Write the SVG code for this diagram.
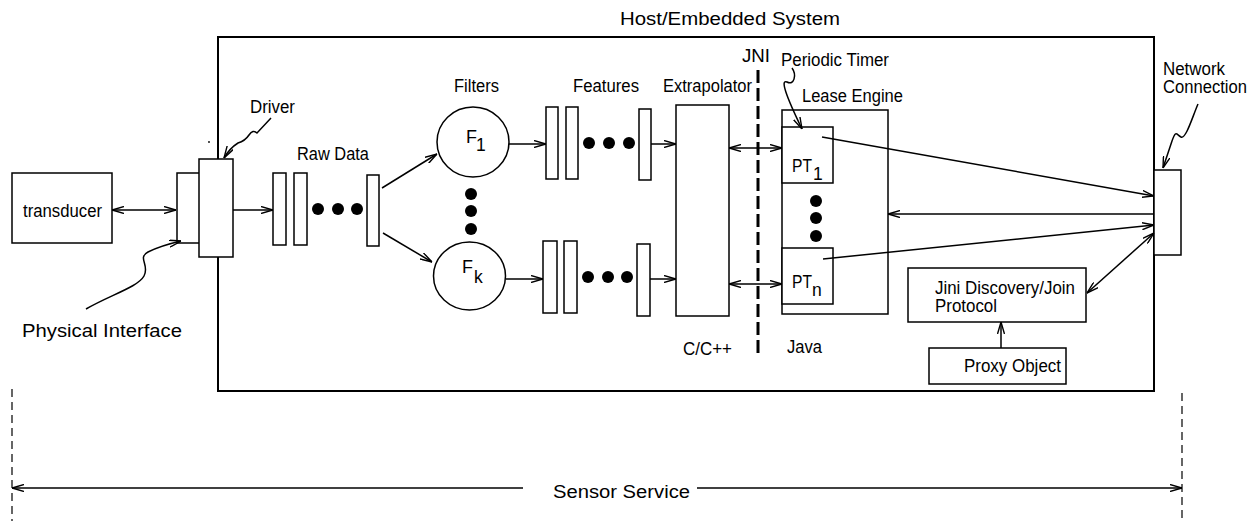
<svg xmlns="http://www.w3.org/2000/svg" width="1256" height="521" viewBox="0 0 1256 521">
<style>
text{font-family:"Liberation Sans",Arimo,Arial,Helvetica,sans-serif;font-size:17.5px;fill:#000}
.b{fill:#fff;stroke:#000;stroke-width:1.5}
.l{fill:none;stroke:#000;stroke-width:1.5}
.d{fill:#000}
</style>
<defs>
<marker id="ah" viewBox="0 0 12 8" refX="12" refY="4" markerWidth="12" markerHeight="8" markerUnits="userSpaceOnUse" orient="auto-start-reverse">
<path d="M0,0.5 L12,4 L0,7.5" fill="none" stroke="#000" stroke-width="1.4"/>
</marker>
</defs>
<rect width="1256" height="521" fill="#fff"/>

<g id="host-system">
<rect x="218" y="37" width="936" height="354" fill="none" stroke="#000" stroke-width="2"/>
<text x="620" y="25" font-size="19" textLength="220" lengthAdjust="spacingAndGlyphs">Host/Embedded System</text>
</g>

<g id="transducer">
<rect class="b" x="12" y="173" width="100" height="70"/>
<text x="23" y="217" textLength="79" lengthAdjust="spacingAndGlyphs">transducer</text>
</g>

<g id="physical-interface">
<rect class="b" x="177" y="173" width="26" height="70"/>
<text x="22" y="337" font-size="20" textLength="160" lengthAdjust="spacingAndGlyphs">Physical Interface</text>
</g>

<g id="driver">
<rect class="b" x="199" y="159" width="34" height="98"/>
<text x="250" y="113" textLength="45" lengthAdjust="spacingAndGlyphs">Driver</text>
<circle class="d" cx="209" cy="142" r="0.9"/>
</g>

<g id="raw-data">
<text x="297" y="160" textLength="72" lengthAdjust="spacingAndGlyphs">Raw Data</text>
<rect class="b" x="273" y="173" width="13" height="72"/>
<rect class="b" x="294" y="173" width="13" height="72"/>
<circle class="d" cx="318" cy="209" r="6"/>
<circle class="d" cx="338" cy="209" r="6"/>
<circle class="d" cx="357" cy="209" r="6"/>
<rect class="b" x="367" y="175" width="12" height="71"/>
</g>

<g id="filters">
<text x="454" y="92" textLength="45" lengthAdjust="spacingAndGlyphs">Filters</text>
<ellipse class="b" cx="473" cy="142" rx="36" ry="35"/>
<text x="466" y="143" font-size="18" textLength="11" lengthAdjust="spacingAndGlyphs">F</text>
<text x="476" y="151" font-size="18">1</text>
<circle class="d" cx="471" cy="194" r="6"/>
<circle class="d" cx="471" cy="211" r="6"/>
<circle class="d" cx="471" cy="229" r="6"/>
<ellipse class="b" cx="469.5" cy="276" rx="36" ry="34"/>
<text x="462" y="273" font-size="18" textLength="11" lengthAdjust="spacingAndGlyphs">F</text>
<text x="474" y="283" font-size="18">k</text>
</g>

<g id="features">
<text x="573" y="92" textLength="66" lengthAdjust="spacingAndGlyphs">Features</text>
<rect class="b" x="546" y="107" width="12" height="72"/>
<rect class="b" x="566" y="107" width="12" height="72"/>
<circle class="d" cx="589" cy="143" r="6"/>
<circle class="d" cx="609" cy="143" r="6"/>
<circle class="d" cx="629" cy="143" r="6"/>
<rect class="b" x="639" y="109" width="12" height="71"/>
<rect class="b" x="543" y="241" width="14" height="72"/>
<rect class="b" x="564" y="241" width="13" height="72"/>
<circle class="d" cx="588" cy="277" r="6"/>
<circle class="d" cx="608" cy="277" r="6"/>
<circle class="d" cx="627" cy="277" r="6"/>
<rect class="b" x="637" y="244" width="13" height="72"/>
</g>

<g id="extrapolator">
<text x="663" y="92" textLength="89" lengthAdjust="spacingAndGlyphs">Extrapolator</text>
<rect class="b" x="676" y="105" width="53" height="211"/>
<text x="683" y="355" textLength="49" lengthAdjust="spacingAndGlyphs">C/C++</text>
</g>

<g id="jni">
<text x="742" y="62" font-size="18" textLength="28" lengthAdjust="spacingAndGlyphs">JNI</text>
<line x1="758" y1="70" x2="758" y2="357" stroke="#000" stroke-width="3" stroke-dasharray="13,5"/>
<text x="787" y="353" textLength="35" lengthAdjust="spacingAndGlyphs">Java</text>
</g>

<g id="lease-engine">
<text x="802" y="102" textLength="101" lengthAdjust="spacingAndGlyphs">Lease Engine</text>
<rect class="b" x="782" y="110" width="106" height="204"/>
<rect class="b" x="782" y="127" width="51" height="56"/>
<text x="792" y="172" textLength="20" lengthAdjust="spacingAndGlyphs">PT</text>
<text x="813" y="180" font-size="19">1</text>
<circle class="d" cx="816" cy="201" r="6"/>
<circle class="d" cx="816" cy="218" r="6"/>
<circle class="d" cx="816" cy="236" r="6"/>
<rect class="b" x="782" y="248" width="51" height="56"/>
<text x="792" y="288" textLength="20" lengthAdjust="spacingAndGlyphs">PT</text>
<text x="812" y="296" font-size="19">n</text>
</g>

<g id="periodic-timer">
<text x="781" y="66" textLength="108" lengthAdjust="spacingAndGlyphs">Periodic Timer</text>
</g>

<g id="jini-discovery">
<rect class="b" x="908" y="268" width="178" height="54"/>
<text x="935" y="294" font-size="16" textLength="140" lengthAdjust="spacingAndGlyphs">Jini Discovery/Join</text>
<text x="935" y="311.5" font-size="16" textLength="62" lengthAdjust="spacingAndGlyphs">Protocol</text>
</g>

<g id="proxy-object">
<rect class="b" x="929" y="348" width="137" height="36"/>
<text x="964" y="372" font-size="18" textLength="97" lengthAdjust="spacingAndGlyphs">Proxy Object</text>
</g>

<g id="network-connection">
<rect class="b" x="1154" y="170" width="27" height="85"/>
<text x="1163" y="75" font-size="15.5" textLength="62" lengthAdjust="spacingAndGlyphs">Network</text>
<text x="1163" y="92.5" font-size="15.5" textLength="84" lengthAdjust="spacingAndGlyphs">Connection</text>
</g>

<g id="sensor-service">
<line x1="12" y1="389" x2="12" y2="521" stroke="#000" stroke-width="1.2" stroke-dasharray="8,5"/>
<line x1="1182" y1="393" x2="1182" y2="521" stroke="#000" stroke-width="1.2" stroke-dasharray="8,5"/>
<text x="553" y="498" font-size="20" textLength="137" lengthAdjust="spacingAndGlyphs">Sensor Service</text>
</g>

<g id="connectors">
<line class="l" x1="112" y1="210" x2="176" y2="210" marker-start="url(#ah)" marker-end="url(#ah)"/>
<path class="l" d="M86,309 C110,295 138,287 144,276 C150,265 137,258 148,252 C158,247 168,244 181,241" marker-end="url(#ah)"/>
<path class="l" d="M271,118 L257,133 Q253,129 249,135 Q245,141 238,143 Q230,148 224,158" marker-end="url(#ah)"/>
<line class="l" x1="233" y1="210" x2="273" y2="210" marker-end="url(#ah)"/>
<line class="l" x1="382" y1="188" x2="437" y2="154" marker-end="url(#ah)"/>
<line class="l" x1="383" y1="233" x2="432" y2="262" marker-end="url(#ah)"/>
<line class="l" x1="509" y1="144" x2="546" y2="144" marker-end="url(#ah)"/>
<line class="l" x1="651" y1="144" x2="676" y2="144" marker-end="url(#ah)"/>
<line class="l" x1="506" y1="279" x2="543" y2="279" marker-end="url(#ah)"/>
<line class="l" x1="650" y1="279" x2="676" y2="279" marker-end="url(#ah)"/>
<line class="l" x1="729" y1="148" x2="782" y2="148" marker-start="url(#ah)" marker-end="url(#ah)"/>
<line class="l" x1="729" y1="284" x2="782" y2="284" marker-start="url(#ah)" marker-end="url(#ah)"/>
<path class="l" d="M792,68 C797,75 794,86 787,82 C780,79 786,96 802,129" marker-end="url(#ah)"/>
<line class="l" x1="822" y1="137" x2="1154" y2="196" marker-end="url(#ah)"/>
<line class="l" x1="1154" y1="214" x2="888" y2="214" marker-end="url(#ah)"/>
<line class="l" x1="823" y1="259" x2="1154" y2="225" marker-end="url(#ah)"/>
<line class="l" x1="1087" y1="293" x2="1154" y2="233" marker-start="url(#ah)" marker-end="url(#ah)"/>
<line class="l" x1="1001" y1="348" x2="1001" y2="322" marker-end="url(#ah)"/>
<path class="l" d="M1198,104 C1192,118 1186,139 1181,137 C1176,134 1176,130 1172,141 L1163,168" marker-end="url(#ah)"/>
<line class="l" x1="12" y1="488" x2="523" y2="488" marker-start="url(#ah)"/>
<line class="l" x1="697" y1="488" x2="1182" y2="488" marker-end="url(#ah)"/>
</g>
</svg>
